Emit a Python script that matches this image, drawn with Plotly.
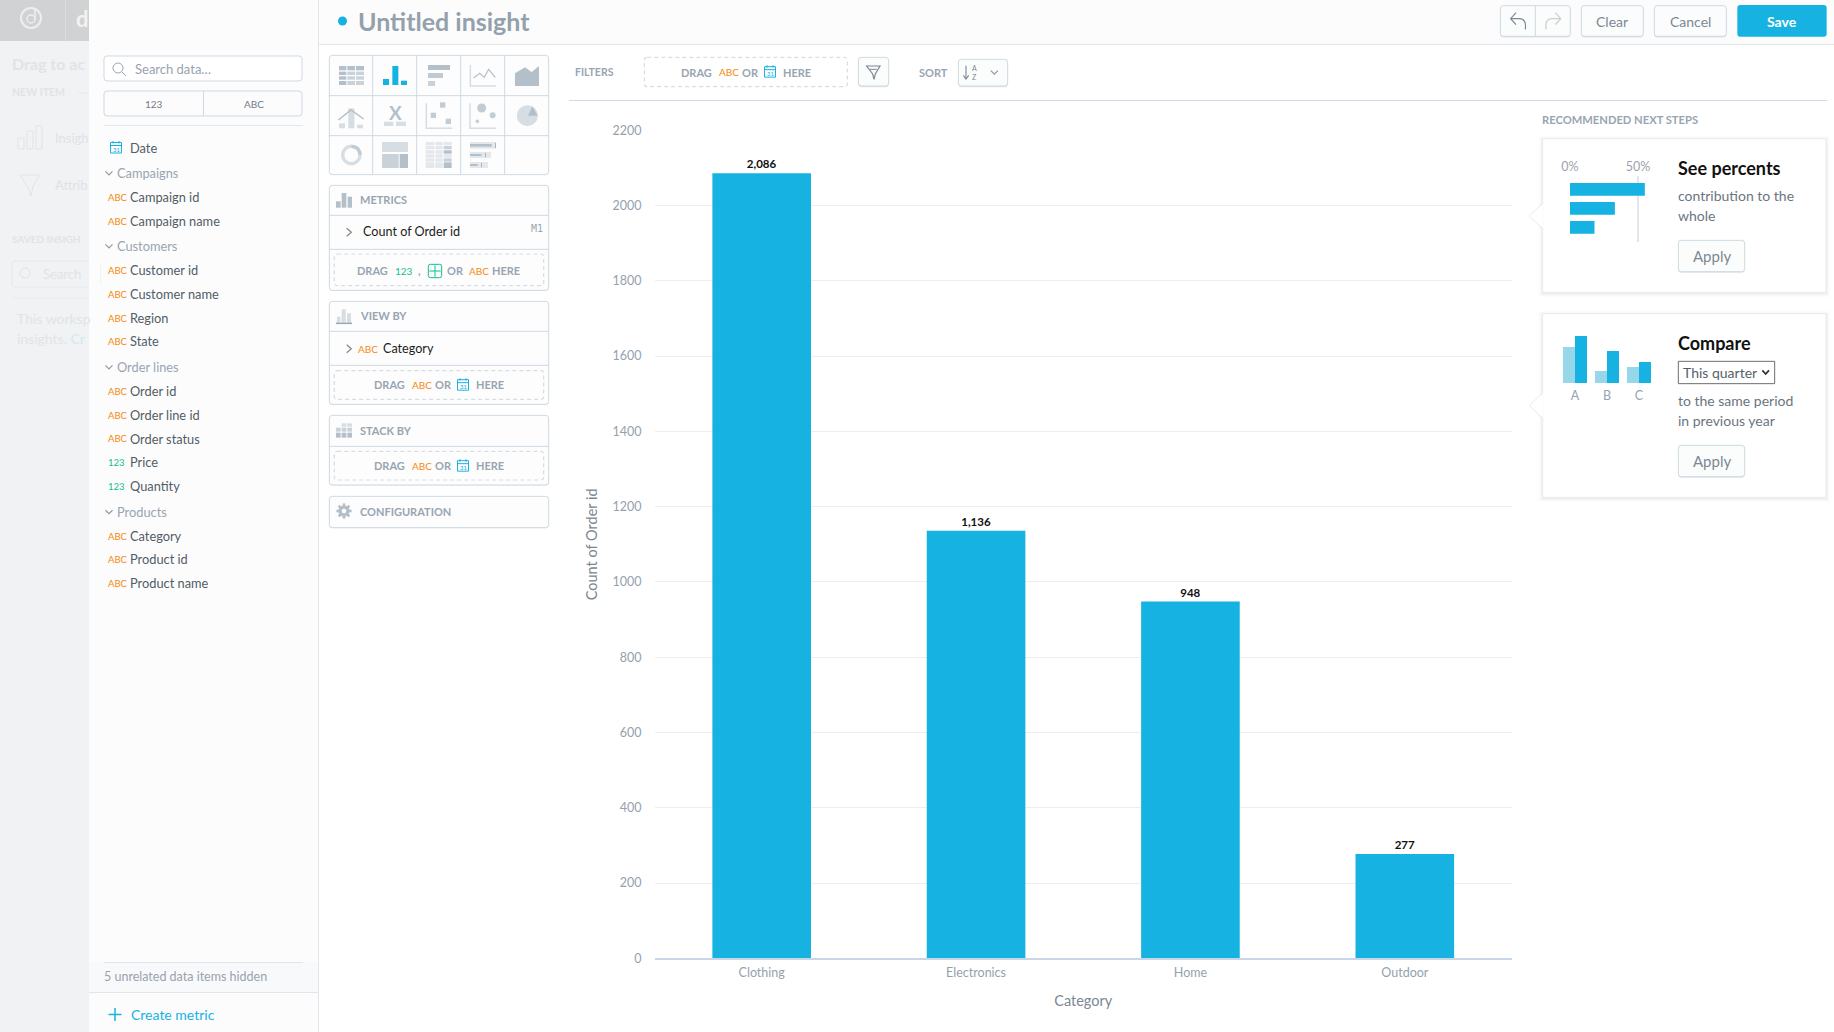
import math

import plotly.graph_objects as go

# values
categories = ['Clothing', 'Electronics', 'Home', 'Outdoor']
order_counts = [2086, 1136, 948, 277]
y_ticks = [0, 200, 400, 600, 800, 1000, 1200, 1400, 1600, 1800, 2000, 2200]

percent_rows = ['first', 'second', 'third']
percent_values = [55, 33, 18]
percent_ticks = [0, 50]
percent_tick_labels = ['0%', '50%']

compare_labels = ['A', 'B', 'C']
compare_previous = [36, 12, 16]
compare_current = [47, 32, 21]

catalog = [
    ('group', 'Campaigns'), ('abc', 'Campaign id'), ('abc', 'Campaign name'),
    ('group', 'Customers'), ('abc', 'Customer id'), ('abc', 'Customer name'), ('abc', 'Region'), ('abc', 'State'),
    ('group', 'Order lines'), ('abc', 'Order id'), ('abc', 'Order line id'), ('abc', 'Order status'),
    ('num', 'Price'), ('num', 'Quantity'),
    ('group', 'Products'), ('abc', 'Category'), ('abc', 'Product id'), ('abc', 'Product name'),
]

W, H = 1834, 1032
FONT = 'Lato'
BLUE = '#16b2e2'
ORANGE = '#f58a0b'
GREEN = '#0bc18f'
GREY = '#98a5b1'
ICON = '#b3c0ca'
LIGHT = '#d6dde3'
EDGE = '#cdd9e3'
TEXT = '#525c66'

shapes = []
notes = []


def fx(x):
    return x / W


def fy(y):
    return 1 - y / H


def add_path(d, fill=None, line=None, w=1, dash=None):
    shapes.append(dict(type='path', path=d, xref='paper', yref='paper', layer='below',
                       fillcolor=fill or 'rgba(0,0,0,0)',
                       line=dict(color=line or 'rgba(0,0,0,0)', width=w if line else 0, dash=dash or 'solid')))


def rect(x0, y0, x1, y1, fill=None, line=None, w=1, r=0, dash=None):
    a, b, c, d = fx(x0), fy(y0), fx(x1), fy(y1)
    if r == 0:
        p = f'M{a},{b} L{c},{b} L{c},{d} L{a},{d} Z'
    else:
        rx, ry = r / W, r / H
        p = (f'M{a + rx},{b} L{c - rx},{b} Q{c},{b} {c},{b - ry} L{c},{d + ry} Q{c},{d} {c - rx},{d} '
             f'L{a + rx},{d} Q{a},{d} {a},{d + ry} L{a},{b - ry} Q{a},{b} {a + rx},{b} Z')
    add_path(p, fill, line, w, dash)


def poly(points, fill=None, line=None, w=1, close=False):
    p = ' '.join(('M' if i == 0 else 'L') + f'{fx(x)},{fy(y)}' for i, (x, y) in enumerate(points))
    add_path(p + (' Z' if close else ''), fill, line, w)


def seg(x0, y0, x1, y1, color, w=1):
    poly([(x0, y0), (x1, y1)], line=color, w=w)


def circ(cx, cy, r, fill=None, line=None, w=1):
    shapes.append(dict(type='circle', xref='paper', yref='paper', layer='below',
                       x0=fx(cx - r), x1=fx(cx + r), y0=fy(cy + r), y1=fy(cy - r),
                       fillcolor=fill or 'rgba(0,0,0,0)',
                       line=dict(color=line or 'rgba(0,0,0,0)', width=w if line else 0)))


def txt(x, y, s, size=13, color=TEXT, anchor='left', bold=False, font=FONT):
    notes.append(dict(x=fx(x), y=fy(y), xref='paper', yref='paper', text=f'<b>{s}</b>' if bold else s,
                      showarrow=False, xanchor=anchor, yanchor='middle', borderpad=0, borderwidth=0,
                      font=dict(family=font, size=size, color=color)))


def chevron_down(x, y, color='#8d99a5', s=3.5):
    poly([(x - s, y - s / 2), (x, y + s / 2), (x + s, y - s / 2)], line=color, w=1.2)


def calendar(x, y, color=BLUE):
    # x, y = centre
    rect(x - 5.5, y - 5, x + 5.5, y + 5.5, line=color, w=1)
    seg(x - 5.5, y - 2, x + 5.5, y - 2, color)
    seg(x - 3, y - 6.5, x - 3, y - 4, color)
    seg(x + 3, y - 6.5, x + 3, y - 4, color)
    txt(x, y + 2, '31', 6, color, 'center')


def button(x0, y0, x1, y1, label=None, size=14, color='#7b8893'):
    rect(x0, y0 + 1.2, x1, y1 + 1.2, fill='#dfe5ea', r=3)
    rect(x0, y0, x1, y1, fill='#fbfcfc', line=EDGE, r=3)
    if label:
        txt((x0 + x1) / 2, (y0 + y1) / 2, label, size, color, 'center')


def mx(v):
    return 325 + v / 3


def my(v):
    return 40 + v / 3


def rx(v):
    return 1490 + v / 3


def ry(v):
    return v / 3


def tx(v):
    return 560 + v / 3


# ---------- page backgrounds
rect(0, 0, 89, H, fill='#f0f2f4')
rect(0, 0, 89, 41, fill='#d1d2d3')
seg(65.5, 0, 65.5, 41, '#dcdddd')
rect(89, 0, W, 44, fill='#fcfcfd')
seg(89, 44.5, W, 44.5, '#dfe6ed')
rect(89, 0, 318, H, fill='#fcfcfd')
seg(318.5, 0, 318.5, H, '#dfe6ed')

# faded rail behind the catalog
circ(31, 18, 10, line='#eeeeee', w=2)
circ(31, 19, 4, line='#eeeeee', w=1.5)
seg(35, 10, 35, 19, '#eeeeee', 1.5)
txt(76, 18, 'd', 22, '#f2f2f2', bold=True)
txt(12, 63, 'Drag to ac', 16, '#e1e4e7', bold=True)
txt(12, 92, 'NEW ITEM', 10.5, '#e1e4e7', bold=True)
seg(78, 93, 89, 93, '#e6e9ec')
for x0, y0 in [(18, 138), (27, 131), (36, 126)]:
    rect(x0, y0, x0 + 6, 149, line='#e1e4e7', w=1)
txt(55, 138, 'Insigh', 13, '#dfe2e6')
poly([(20, 175), (40, 175), (33, 186), (31, 196), (29, 190), (27, 186)], line='#e1e4e7', w=1, close=True)
txt(55, 185, 'Attrib', 13, '#dfe2e6')
txt(12, 239, 'SAVED INSIGH', 10, '#e1e4e7', bold=True)
rect(12, 261, 100, 287, line='#e6e9ec', r=3)
rect(89, 255, 100, 292, fill='#fcfcfd')
circ(25, 273, 5, line='#e1e4e7')
txt(43, 274, 'Search', 13, '#e1e4e7')
seg(12, 298, 89, 298, '#e8ebee')
txt(17, 318, 'This worksp', 14, '#e1e4e7')
txt(17, 338, "insights. <span style='color:#cfe9f3'>Cr</span>", 14, '#e1e4e7')

# ---------- header
circ(342.5, 21, 4.5, fill=BLUE)
txt(358, 21, 'Untitled insight', 25, '#94a1ad', bold=True)

button(rx(31), ry(17), rx(241), ry(109))
seg(rx(136), ry(17), rx(136), ry(109), EDGE)
poly([(rx(78), ry(38)), (rx(62), ry(56)), (rx(78), ry(74))], line='#7b8893', w=1.2)
add_path(f'M{fx(rx(62))},{fy(ry(56))} L{fx(rx(88))},{fy(ry(56))} Q{fx(rx(110))},{fy(ry(56))} {fx(rx(106))},{fy(ry(88))}',
         line='#7b8893', w=1.2)
poly([(rx(196), ry(38)), (rx(212), ry(56)), (rx(196), ry(74))], line='#c7cfd6', w=1.2)
add_path(f'M{fx(rx(212))},{fy(ry(56))} L{fx(rx(186))},{fy(ry(56))} Q{fx(rx(164))},{fy(ry(56))} {fx(rx(168))},{fy(ry(88))}',
         line='#c7cfd6', w=1.2)
button(rx(274), ry(17), rx(460), ry(109), 'Clear')
button(rx(493), ry(17), rx(709), ry(109), 'Cancel')
rect(rx(742), ry(15), rx(1010), ry(110), fill=BLUE, r=3)
txt(rx(875), ry(64), 'Save', 14, '#ffffff', 'center', bold=True)

# ---------- catalog column
rect(104, 56, 302, 81, fill='#ffffff', line=EDGE, r=3)
circ(118, 68, 5, line='#9aa6b2')
seg(122, 72, 126, 76, '#9aa6b2')
txt(135, 69, 'Search data…', 13, '#98a3ae')
rect(104, 91, 302, 116, fill='#fcfcfd', line=EDGE, r=3)
seg(203.5, 91, 203.5, 116, EDGE)
txt(154, 104, '123', 10, '#6f7b86', 'center')
txt(254, 104, 'ABC', 10, '#6f7b86', 'center')
seg(104, 125.5, 303, 125.5, '#e1e7ec')

calendar(116, 147.5)
txt(130, 147.5, 'Date', 12.8)
row_y = 147.5
previous_kind = 'date'
for kind, name in catalog:
    if kind == 'group':
        row_y += 25.6
        chevron_down(109, row_y, '#8d99a5')
        txt(117, row_y, name, 12.8, GREY)
    else:
        row_y += 23.5 if previous_kind == 'group' else 23.95
        if kind == 'abc':
            txt(108, row_y + 0.5, 'ABC', 9.5, ORANGE)
        else:
            txt(108, row_y + 0.5, '123', 9.5, GREEN)
        txt(130, row_y, name, 12.8)
    previous_kind = kind

rect(89, 962, 318, 992, fill='#f8f9fb')
seg(104, 962.5, 303, 962.5, '#dfe5ea')
seg(89, 992.5, 318, 992.5, '#dfe6ed')
txt(104, 976.5, '5 unrelated data items hidden', 12.5, '#98a3ae')
seg(115, 1008, 115, 1021, BLUE, 1.5)
seg(108.5, 1014.5, 121.5, 1014.5, BLUE, 1.5)
txt(131, 1014.5, 'Create metric', 14, BLUE)

# ---------- chart type picker
rect(mx(13), my(46), mx(671), my(404), fill='#fdfdfe', line=EDGE, r=3)
for v in [143, 275, 407, 539]:
    seg(mx(v), my(46), mx(v), my(404), EDGE)
for v in [167, 287]:
    seg(mx(13), my(v), mx(671), my(v), EDGE)


def zrect(x0, y0, x1, y1, fill):
    rect(mx(x0), my(y0), mx(x1), my(y1), fill=fill)


def zpoly(points, fill=None, line=None, w=1, close=False):
    poly([(mx(a), my(b)) for a, b in points], fill, line, w, close)


# table
for i, (t, b) in enumerate([(78, 91), (95, 105), (109, 119), (123, 135)]):
    for j, (l, r) in enumerate([(42, 64), (67, 90), (93, 117)]):
        zrect(l, t, r, b, ICON if i == 0 or j == 0 else '#c9d2d9')
# bars (selected)
zrect(174, 117, 192, 135, BLUE)
zrect(202, 78, 220, 135, BLUE)
zrect(228, 122, 246, 135, BLUE)
# horizontal bars
zrect(309, 75, 375, 90, ICON)
zrect(309, 99, 354, 114, '#bfcad3')
zrect(309, 123, 330, 138, '#c9d2d9')
# line
zpoly([(436, 75), (436, 138), (513, 138)], line=LIGHT, w=1.5)
zpoly([(446, 114), (464, 100), (478, 112), (491, 88), (511, 112)], line=ICON, w=1.2)
# area
zpoly([(570, 100), (600, 82), (620, 96), (642, 78), (642, 138), (570, 138)], fill=ICON, close=True)
# combo
zrect(42, 250, 60, 265, LIGHT)
zrect(70, 205, 88, 265, LIGHT)
zrect(96, 254, 114, 265, LIGHT)
zpoly([(40, 240), (78, 210), (116, 237)], line=ICON, w=1.5)
# headline
txt(mx(210), my(217), 'X', 19, ICON, 'center', bold=True)
zrect(177, 245, 205, 258, LIGHT)
zrect(213, 245, 243, 258, LIGHT)
# scatter
zpoly([(304, 190), (304, 265), (382, 265)], line=LIGHT, w=1.5)
zrect(345, 187, 361, 203, '#c2ccd5')
zrect(317, 218, 333, 234, '#c2ccd5')
zrect(362, 236, 378, 252, '#c2ccd5')
# bubble
zpoly([(435, 190), (435, 265), (513, 265)], line=LIGHT, w=1.5)
circ(mx(470), my(204), 4.5, fill='#c2ccd5')
circ(mx(503), my(226), 3, fill='#c2ccd5')
circ(mx(457), my(244), 1.8, fill='#c2ccd5')
# pie
circ(mx(607), my(227), 10.5, fill=LIGHT)
zpoly([(609, 227), (638, 227), (622, 199)], fill=ICON, close=True)
# donut
circ(mx(79), my(345), 8.7, line=LIGHT, w=3.4)
add_path(f'M{fx(mx(79))},{fy(my(319))} Q{fx(mx(104))},{fy(my(319))} {fx(mx(105))},{fy(my(345))}', line='#c2ccd5', w=3.4)
# treemap
zrect(171, 306, 249, 336, LIGHT)
zrect(171, 342, 221, 384, '#c9d2d9')
zrect(224, 342, 249, 384, ICON)
# heatmap
for i, (t, b) in enumerate([(306, 316), (318, 328), (331, 341), (343, 353), (355, 365), (367, 384)]):
    for j, (l, r) in enumerate([(302, 328), (331, 353), (356, 380)]):
        shade = ['#e4e8ec', '#c9d2d9', '#b3c0ca'][(i * 2 + j * 3 + i * j) % 3] if j != 0 else '#e4e8ec'
        zrect(l, t, r, b, shade)
# bullet
for t, b, r, k in [(306, 326, 513, 500), (336, 354, 498, 470), (366, 384, 489, 458)]:
    zrect(435, t, r, b, '#e4e8ec')
    zrect(435, t + 6, k, b - 6, '#b3c0ca')
    zrect(k + 10, t + 2, k + 12, b - 2, '#8e9ca8')


# ---------- metric / view / stack wells
def well(top, bottom, lines, title):
    rect(mx(13), my(top + 1.5), mx(671), my(bottom + 1.5), fill='#dfe5ea', r=3)
    rect(mx(13), my(top), mx(671), my(bottom), fill='#fdfdfe', line=EDGE, r=3)
    for v in lines:
        seg(mx(13), my(v), mx(671), my(v), EDGE)
    txt(mx(106), my((top + (lines[0] if lines else bottom)) / 2) - 0.5, title, 11, GREY, bold=True)


def dropzone(top, bottom):
    rect(mx(28), my(top), mx(656), my(bottom), line=LIGHT, w=1.2, r=3, dash='4px,3px')


def bold_grey(x, y, s):
    txt(mx(x), my(y), s, 11, GREY, bold=True)


well(436, 751, [526, 628], 'METRICS')
zrect(33, 484, 47, 503, ICON)
zrect(50, 459, 64, 503, ICON)
zrect(68, 470, 81, 503, ICON)
zpoly([(65, 565), (79, 577), (65, 589)], line='#7f8b96', w=1.3)
txt(mx(115), my(575), 'Count of Order id', 12.6, '#1c1c1c')
txt(mx(653), my(565), 'M1', 10, GREY, 'right', font='DejaVu Sans Mono')
dropzone(642, 737)
bold_grey(96, 692, 'DRAG')
txt(mx(210), my(692), '123', 10, GREEN)
bold_grey(280, 692, ',')
rect(mx(310), my(673), mx(350), my(713), line=GREEN, r=2)
seg(mx(330), my(676), mx(330), my(710), GREEN)
seg(mx(313), my(693), mx(347), my(693), GREEN)
bold_grey(366, 692, 'OR')
txt(mx(432), my(692), 'ABC', 10, ORANGE)
bold_grey(502, 692, 'HERE')

well(784, 1093, [874, 976], 'VIEW BY')
zrect(36, 830, 46, 848, LIGHT)
zrect(50, 808, 62, 848, LIGHT)
zrect(66, 820, 78, 848, LIGHT)
seg(mx(33), my(850), mx(81), my(850), '#9aa6b2', 1.5)
zpoly([(65, 914), (79, 926), (65, 938)], line='#7f8b96', w=1.3)
txt(mx(98), my(928), 'ABC', 10, ORANGE)
txt(mx(175), my(927), 'Category', 12.6, '#1c1c1c')
dropzone(992, 1078)
bold_grey(147, 1034, 'DRAG')
txt(mx(261), my(1034), 'ABC', 10, ORANGE)
bold_grey(331, 1034, 'OR')
calendar(mx(414), my(1034))
bold_grey(452, 1034, 'HERE')

well(1126, 1335, [1219], 'STACK BY')
for x0 in [33, 50, 67]:
    for t, b, c in [(1150, 1160, LIGHT), (1163, 1175, '#c9d2d9'), (1178, 1193, ICON)]:
        if x0 == 33 and t == 1150:
            continue
        zrect(x0, t, x0 + 14, b, c)
dropzone(1234, 1320)
bold_grey(147, 1277, 'DRAG')
txt(mx(261), my(1277), 'ABC', 10, ORANGE)
bold_grey(331, 1277, 'OR')
calendar(mx(414), my(1277))
bold_grey(452, 1277, 'HERE')

well(1369, 1463, [], 'CONFIGURATION')
# gear
gear_x, gear_y = mx(57), my(1413)
for step in range(8):
    a = step * math.pi / 4
    seg(gear_x + 3 * math.cos(a), gear_y + 3 * math.sin(a),
        gear_x + 7.6 * math.cos(a), gear_y + 7.6 * math.sin(a), ICON, 2.6)
circ(gear_x, gear_y, 5.6, fill=ICON)
circ(gear_x, gear_y, 2.3, fill='#fdfdfe')

# ---------- filter strip
seg(569, 100.5, 1827, 100.5, '#cfdbe6')
txt(tx(46), ry(216), 'FILTERS', 10.5, GREY, bold=True)
rect(tx(253), ry(172), tx(862), ry(260), line=LIGHT, w=1.2, r=3, dash='4px,3px')
txt(tx(362), ry(216), '<b>DRAG</b>', 11, GREY)
txt(tx(477), ry(216), 'ABC', 10, ORANGE)
txt(tx(546), ry(216), '<b>OR</b>', 11, GREY)
calendar(tx(630), ry(215))
txt(tx(668), ry(216), '<b>HERE</b>', 11, GREY)
button(tx(895), ry(172), tx(986), ry(258))
poly([(tx(920), ry(198)), (tx(960), ry(198)), (tx(946), ry(222)), (tx(942), ry(238)),
      (tx(938), ry(222))], line='#7b8893', w=1.2, close=True)
seg(tx(930), ry(208), tx(950), ry(208), '#7b8893')
txt(tx(1078), ry(216), 'SORT', 11, GREY, bold=True)
button(tx(1195), ry(178), tx(1343), ry(258))
seg(tx(1218), ry(197), tx(1218), ry(237), '#7b8893', 1.1)
poly([(tx(1210), ry(226)), (tx(1218), ry(237)), (tx(1226), ry(226))], line='#7b8893', w=1.1)
txt(tx(1243), ry(205), 'A', 7, '#7b8893', 'center')
txt(tx(1243), ry(231), 'Z', 7, '#7b8893', 'center')
chevron_down(tx(1303), ry(217))


# ---------- recommendation cards
def card(top, bottom, notch):
    poly([(rx(158), ry(notch - 38)), (rx(118), ry(notch)), (rx(158), ry(notch + 38))], fill='#ffffff',
         line='#e4e9ee', close=True)
    for grow, alpha in [(4, 0.012), (3, 0.018), (2, 0.026), (1, 0.036)]:
        rect(rx(158) - grow, ry(top) - grow + 1, rx(1008) + grow, ry(bottom) + grow + 1, fill=f'rgba(60,80,100,{alpha})')
    rect(rx(158), ry(top), rx(1008), ry(bottom), fill='#ffffff', line='#e6ebf0')
    poly([(rx(159), ry(notch - 37)), (rx(120), ry(notch)), (rx(159), ry(notch + 37))], fill='#ffffff', close=True)


txt(rx(157), ry(360), 'RECOMMENDED NEXT STEPS', 11.2, GREY, bold=True)
card(416, 877, 648)
card(941, 1492, 1217)

txt(rx(565), ry(505), 'See percents', 18, '#111111', bold=True)
txt(rx(565), ry(586), 'contribution to the', 14, '#6b7580')
txt(rx(565), ry(646), 'whole', 14, '#6b7580')
button(rx(565), ry(721), rx(764), ry(815), 'Apply', 15)

txt(rx(565), ry(1030), 'Compare', 18, '#111111', bold=True)
rect(rx(565), ry(1084), rx(854), ry(1151), fill='#ffffff', line='#6e6e6e')
txt(rx(580), ry(1117), 'This quarter', 14, '#555f69')
poly([(rx(817), ry(1111)), (rx(827), ry(1122)), (rx(837), ry(1111))], line='#333333', w=1.8)
txt(rx(565), ry(1201), 'to the same period', 14, '#6b7580')
txt(rx(565), ry(1262), 'in previous year', 14, '#6b7580')
button(rx(565), ry(1336), rx(764), ry(1430), 'Apply', 15)

# ---------- figure
fig = go.Figure()

fig.add_trace(go.Bar(
    x=categories, y=order_counts, marker=dict(color=BLUE, line=dict(width=0)), width=0.46,
    text=order_counts, texttemplate='<b>%{y:,}</b>', textposition='outside', cliponaxis=False,
    textfont=dict(family=FONT, size=11.5, color='#111111'),
    hoverinfo='x+y', showlegend=False,
))

fig.add_trace(go.Bar(
    x=percent_values, y=percent_rows, orientation='h', xaxis='x2', yaxis='y2',
    marker=dict(color=BLUE, line=dict(width=0)), width=0.667, showlegend=False, hoverinfo='skip',
))

fig.add_trace(go.Bar(
    x=compare_labels, y=compare_previous, xaxis='x3', yaxis='y3', width=0.375, offset=-0.375,
    marker=dict(color='#96d7e9', line=dict(width=0)), showlegend=False, hoverinfo='skip',
))
fig.add_trace(go.Bar(
    x=compare_labels, y=compare_current, xaxis='x3', yaxis='y3', width=0.375, offset=0,
    marker=dict(color=BLUE, line=dict(width=0)), showlegend=False, hoverinfo='skip',
))

fig.update_layout(
    width=W, height=H, margin=dict(l=0, r=0, t=0, b=0, pad=0), autosize=False,
    paper_bgcolor='#ffffff', plot_bgcolor='rgba(0,0,0,0)',
    font=dict(family=FONT), barmode='overlay',
    shapes=shapes, annotations=notes, showlegend=False,
    xaxis=dict(
        domain=[fx(654.5), fx(1512)], range=[-0.5, 3.5], type='category', automargin=False,
        showgrid=False, showline=True, linecolor='#c8d6e8', linewidth=1.5, zeroline=False, ticks='',
        tickfont=dict(family=FONT, size=12.5, color='#94a1ad'), ticklabelstandoff=2,
        title=dict(text='Category', font=dict(family=FONT, size=14.5, color='#7b8792'), standoff=17),
    ),
    yaxis=dict(
        domain=[fy(958.3), fy(130.3)], range=[0, 2200], tickvals=y_ticks, automargin=False,
        showgrid=True, gridcolor='#eceef1', gridwidth=1, zeroline=False, showline=False, ticks='',
        tickfont=dict(family=FONT, size=12.5, color='#94a1ad'), ticklabelstandoff=12,
        title=dict(text='Count of Order id', font=dict(family=FONT, size=14.5, color='#7b8792'), standoff=11),
    ),
    xaxis2=dict(
        domain=[fx(rx(240)), fx(rx(240) + 81.6)], range=[0, 60], anchor='y2', side='top', automargin=False,
        tickvals=percent_ticks, ticktext=percent_tick_labels, showgrid=True, gridcolor='#e3e5e8', gridwidth=1.5,
        zeroline=False, showline=False, ticks='', ticklabelstandoff=2,
        tickfont=dict(family=FONT, size=12.5, color='#98a3ae'),
    ),
    yaxis2=dict(
        domain=[fy(ry(725)), fy(ry(528))], anchor='x2', type='category', categoryorder='array', automargin=False,
        categoryarray=percent_rows, range=[2.754, -0.70], showticklabels=False, showgrid=False,
        zeroline=False, showline=False, ticks='',
    ),
    xaxis3=dict(
        domain=[fx(rx(207)), fx(rx(495))], range=[-0.5, 2.5], anchor='y3', type='category', automargin=False,
        showgrid=False, zeroline=False, showline=False, ticks='', ticklabelstandoff=3,
        tickfont=dict(family=FONT, size=12.5, color='#98a3ae'),
    ),
    yaxis3=dict(
        domain=[fy(ry(1149)), fy(ry(1008))], range=[0, 47], anchor='x3', showticklabels=False, automargin=False,
        showgrid=False, zeroline=False, showline=False, ticks='',
    ),
)

fig.write_html("out.html", config={'displayModeBar': False}, post_script="document.body.style.margin='0';")
